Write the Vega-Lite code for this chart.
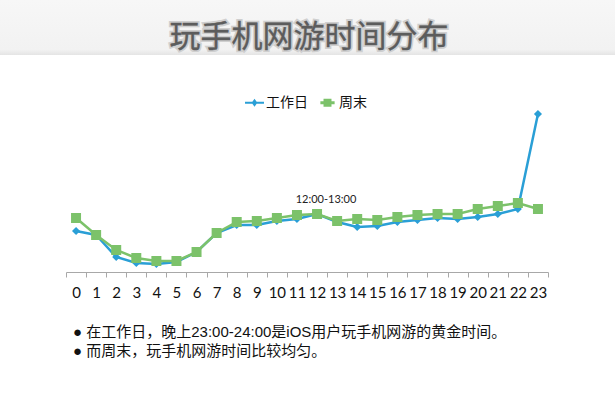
{
  "$schema": "https://vega.github.io/schema/vega-lite/v6.json",
  "width": 482,
  "height": 170,
  "autosize": "none",
  "padding": {"left": 66, "top": 102, "right": 67, "bottom": 128},
  "background": "white",
  "config": {
    "view": {"stroke": null},
    "font": "Noto Sans CJK SC"
  },
  "resolve": {"scale": {"x": "independent"}},
  "layer": [
    {
      "data": {"values": [{}]},
      "mark": {
        "type": "rect",
        "color": {
          "gradient": "linear",
          "x1": 0, "y1": 0, "x2": 0, "y2": 1,
          "stops": [
            {"offset": 0, "color": "#f7f7f7"},
            {"offset": 0.9, "color": "#f2f2f2"},
            {"offset": 1, "color": "#e4e4e4"}
          ]
        }
      },
      "encoding": {
        "x": {"datum": -3.29, "type": "quantitative", "scale": {"domain": [0, 24], "nice": false, "zero": false}, "axis": null},
        "x2": {"datum": 27.35},
        "y": {"datum": 272, "type": "quantitative", "scale": {"domain": [0, 170], "nice": false}, "axis": null},
        "y2": {"datum": 217}
      }
    },
    {
      "data": {
        "values": [
          {"hour": 0, "series": "工作日", "value": 41},
          {"hour": 1, "series": "工作日", "value": 37},
          {"hour": 2, "series": "工作日", "value": 15},
          {"hour": 3, "series": "工作日", "value": 9},
          {"hour": 4, "series": "工作日", "value": 8},
          {"hour": 5, "series": "工作日", "value": 10},
          {"hour": 6, "series": "工作日", "value": 20},
          {"hour": 7, "series": "工作日", "value": 39},
          {"hour": 8, "series": "工作日", "value": 47},
          {"hour": 9, "series": "工作日", "value": 47},
          {"hour": 10, "series": "工作日", "value": 51},
          {"hour": 11, "series": "工作日", "value": 53},
          {"hour": 12, "series": "工作日", "value": 58},
          {"hour": 13, "series": "工作日", "value": 50},
          {"hour": 14, "series": "工作日", "value": 45},
          {"hour": 15, "series": "工作日", "value": 46},
          {"hour": 16, "series": "工作日", "value": 50},
          {"hour": 17, "series": "工作日", "value": 52},
          {"hour": 18, "series": "工作日", "value": 54},
          {"hour": 19, "series": "工作日", "value": 53},
          {"hour": 20, "series": "工作日", "value": 55},
          {"hour": 21, "series": "工作日", "value": 58},
          {"hour": 22, "series": "工作日", "value": 63},
          {"hour": 23, "series": "工作日", "value": 158},
          {"hour": 0, "series": "周末", "value": 54},
          {"hour": 1, "series": "周末", "value": 37},
          {"hour": 2, "series": "周末", "value": 22},
          {"hour": 3, "series": "周末", "value": 14},
          {"hour": 4, "series": "周末", "value": 11},
          {"hour": 5, "series": "周末", "value": 11},
          {"hour": 6, "series": "周末", "value": 20},
          {"hour": 7, "series": "周末", "value": 39},
          {"hour": 8, "series": "周末", "value": 50},
          {"hour": 9, "series": "周末", "value": 51},
          {"hour": 10, "series": "周末", "value": 54},
          {"hour": 11, "series": "周末", "value": 57},
          {"hour": 12, "series": "周末", "value": 58},
          {"hour": 13, "series": "周末", "value": 51},
          {"hour": 14, "series": "周末", "value": 53},
          {"hour": 15, "series": "周末", "value": 52},
          {"hour": 16, "series": "周末", "value": 55},
          {"hour": 17, "series": "周末", "value": 57},
          {"hour": 18, "series": "周末", "value": 58},
          {"hour": 19, "series": "周末", "value": 58},
          {"hour": 20, "series": "周末", "value": 63},
          {"hour": 21, "series": "周末", "value": 66},
          {"hour": 22, "series": "周末", "value": 69},
          {"hour": 23, "series": "周末", "value": 63}
        ]
      },
      "encoding": {
        "x": {
          "field": "hour",
          "type": "ordinal",
          "scale": {"type": "band", "paddingInner": 0, "paddingOuter": 0},
          "axis": {
            "title": null,
            "labelAngle": 0,
            "tickBand": "extent",
            "domainColor": "#a8a8a8",
            "tickColor": "#a8a8a8",
            "tickSize": 5,
            "labelPadding": 8,
            "labelFont": "Lato",
            "labelFontSize": 15,
            "labelColor": "#111",
            "grid": false
          }
        }
      },
      "layer": [
        {
          "mark": {"type": "line", "strokeWidth": 2.5},
          "encoding": {
            "y": {"field": "value", "type": "quantitative", "scale": {"domain": [0, 170], "nice": false}, "axis": null},
            "color": {
              "field": "series",
              "type": "nominal",
              "sort": ["工作日", "周末"],
              "scale": {"domain": ["工作日", "周末"], "range": ["#2a9fd6", "#7cc26a"]},
              "legend": {
                "orient": "none",
                "legendX": 179,
                "legendY": -9,
                "direction": "horizontal",
                "title": null,
                "labelFontSize": 14,
                "labelColor": "#111",
                "labelOffset": 2,
                "columnPadding": 10,
                "symbolSize": 360,
                "symbolStrokeWidth": 0,
                "encode": {
                  "symbols": {
                    "update": {
                      "shape": {"signal": "datum.value === '工作日' ? 'M-1,-0.11H1V0.11H-1Z M0,-0.42L0.3,0L0,0.42L-0.3,0Z' : 'M-0.75,-0.15H0.75V0.15H-0.75Z M-0.42,-0.42H0.42V0.42H-0.42Z'"},
                      "fill": {"signal": "datum.value === '工作日' ? '#2a9fd6' : '#7cc26a'"},
                      "strokeWidth": {"value": 0}
                    }
                  }
                }
              }
            }
          }
        },
        {
          "transform": [{"filter": "datum.series === '工作日'"}],
          "mark": {"type": "point", "filled": true, "opacity": 1, "shape": "diamond", "size": 65, "color": "#2a9fd6"},
          "encoding": {
            "y": {"field": "value", "type": "quantitative", "scale": {"domain": [0, 170], "nice": false}, "axis": null}
          }
        },
        {
          "transform": [{"filter": "datum.series === '周末'"}],
          "mark": {"type": "point", "filled": true, "opacity": 1, "shape": "square", "size": 100, "color": "#7cc26a"},
          "encoding": {
            "y": {"field": "value", "type": "quantitative", "scale": {"domain": [0, 170], "nice": false}, "axis": null}
          }
        },
        {
          "data": {"values": [{}]},
          "mark": {"type": "text", "font": "Lato", "fontSize": 11, "color": "#222", "dx": 9},
          "encoding": {
            "x": {"datum": 12},
            "y": {"datum": 72, "type": "quantitative", "scale": {"domain": [0, 170], "nice": false}, "axis": null},
            "text": {"value": "12:00-13:00"}
          }
        },
        {
          "data": {"values": [{}]},
          "mark": {"type": "text", "fontSize": 31, "color": "#cfcfcf", "stroke": "#cfcfcf", "strokeWidth": 4, "dx": -8, "baseline": "middle"},
          "encoding": {
            "x": {"datum": 12},
            "y": {"datum": 234, "type": "quantitative", "scale": {"domain": [0, 170], "nice": false}, "axis": null},
            "text": {"value": "玩手机网游时间分布"}
          }
        },
        {
          "data": {"values": [{}]},
          "mark": {"type": "text", "fontSize": 31, "color": "#5c5c5c", "stroke": "#5c5c5c", "strokeWidth": 0.4, "dx": -8, "baseline": "middle"},
          "encoding": {
            "x": {"datum": 12},
            "y": {"datum": 234, "type": "quantitative", "scale": {"domain": [0, 170], "nice": false}, "axis": null},
            "text": {"value": "玩手机网游时间分布"}
          }
        },
        {
          "data": {"values": [{}]},
          "mark": {"type": "text", "font": "Liberation Sans, Noto Sans CJK SC", "fontSize": 15, "color": "#111", "align": "left", "baseline": "middle", "lineHeight": 19, "dx": -3},
          "encoding": {
            "x": {"datum": 0},
            "y": {"datum": -60, "type": "quantitative", "scale": {"domain": [0, 170], "nice": false}, "axis": null},
            "text": {"value": ["● 在工作日，晚上23:00-24:00是iOS用户玩手机网游的黄金时间。", "● 而周末，玩手机网游时间比较均匀。"]}
          }
        }
      ]
    }
  ]
}
